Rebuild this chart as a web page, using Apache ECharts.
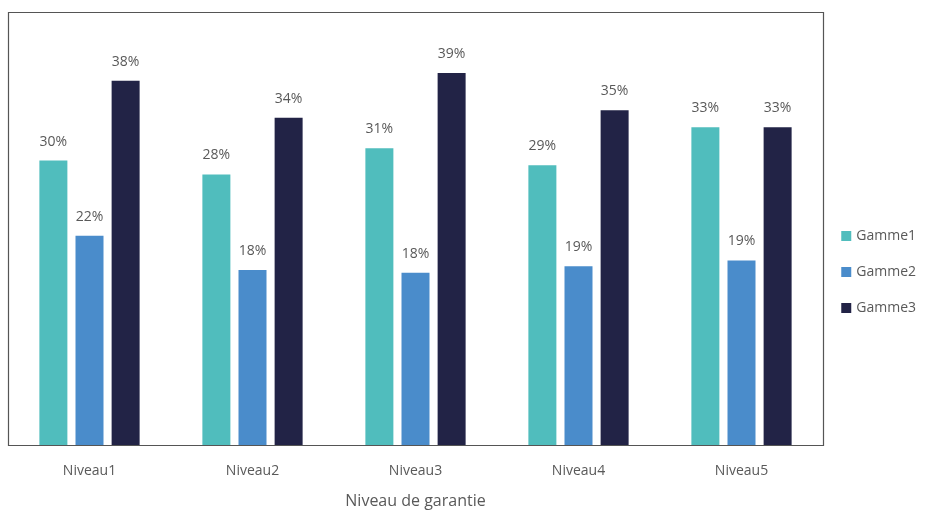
<!DOCTYPE html>
<html><head><meta charset="utf-8">
<script src="https://cdn.jsdelivr.net/npm/echarts@6/dist/echarts.min.js"></script>
<style>html,body{margin:0;padding:0;background:#fff}#c{width:929px;height:511px}</style>
</head><body><div id="c"></div>
<script>
const categories = ['Niveau1','Niveau2','Niveau3','Niveau4','Niveau5'];
const gamme1 = [29.9, 28.45, 31.2, 29.4, 33.4];
const gamme2 = [22.0, 18.4, 18.1, 18.8, 19.4];
const gamme3 = [38.3, 34.4, 39.1, 35.2, 33.4];
const seriesNames = ['Gamme1','Gamme2','Gamme3'];
const colors = ['#50bdbd','#4a8ccb','#222346'];
const chart = echarts.init(document.getElementById('c'));
const lbl = {show:true, position:'top', distance:12, color:'#595959', fontSize:14, fontFamily:'Open Sans', formatter: p => Math.round(p.value)+'%'};
chart.setOption({
  animation:false,
  color: colors,
  graphic:[{type:'rect', shape:{x:8.5,y:12.5,width:815,height:433}, style:{fill:'none', stroke:'#555', lineWidth:1.2}, z:10}],
  grid:{left:8, right:106, top:17, bottom:66, containLabel:false, outerBoundsMode:'none'},
  legend:{orient:'vertical', right:8, top:224, itemWidth:10, itemHeight:10, itemGap:22, icon:'rect',
    textStyle:{color:'#595959', fontSize:14, fontFamily:'Open Sans'}, data: seriesNames},
  xAxis:{type:'category', data:categories, axisTick:{show:false}, axisLine:{show:false},
    axisLabel:{color:'#595959', fontSize:14, fontFamily:'Open Sans', margin:19},
    name:'Niveau de garantie', nameLocation:'middle', nameGap:48,
    nameTextStyle:{color:'#595959', fontSize:16, fontFamily:'Open Sans'}},
  yAxis:{type:'value', min:0, max:45, show:false, splitLine:{show:false}},
  series:[
    {name:seriesNames[0], type:'bar', data:gamme1, barWidth:28, barGap:'29%', label:lbl},
    {name:seriesNames[1], type:'bar', data:gamme2, barWidth:28, barGap:'29%', label:lbl},
    {name:seriesNames[2], type:'bar', data:gamme3, barWidth:28, barGap:'29%', label:lbl}
  ]
});
</script></body></html>
